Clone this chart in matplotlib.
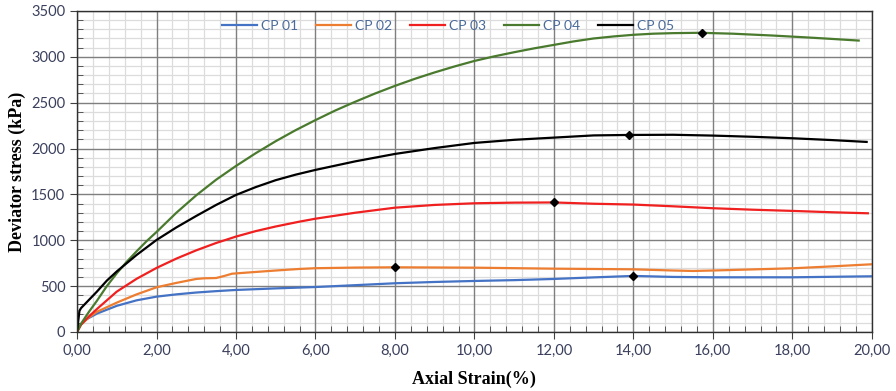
import numpy as np
import matplotlib.pyplot as plt
from matplotlib.ticker import MultipleLocator, FuncFormatter

# strain (%) and deviator stress (kPa)
x_cp01 = [0, 0.05, 0.2, 0.5, 1.0, 1.5, 2.0, 2.5, 3.0, 3.5, 4.0, 5.0, 6.0, 7.0, 8.0, 9.0, 10.0, 11.0, 12.0, 13.0, 14.0, 15.0, 16.0, 18.0, 20.0]
y_cp01 = [0, 60, 130, 200, 285, 345, 385, 410, 430, 445, 458, 475, 490, 510, 531, 545, 556, 565, 578, 595, 611, 600, 596, 596, 607]

x_cp02 = [0, 0.1, 0.3, 0.5, 1.0, 1.5, 2.0, 2.5, 3.0, 3.2, 3.5, 3.7, 3.9, 4.2, 5.0, 5.6, 6.0, 7.0, 8.0, 10.0, 12.0, 14.0, 15.0, 15.5, 16.0, 17.0, 18.0, 19.0, 20.0]
y_cp02 = [0, 80, 160, 220, 320, 410, 487, 535, 578, 585, 588, 610, 635, 645, 670, 687, 695, 702, 705, 701, 690, 683, 670, 665, 670, 682, 694, 715, 738]

x_cp03 = [0, 0.1, 0.3, 0.5, 1.0, 1.5, 2.0, 2.5, 3.0, 3.5, 4.0, 4.5, 5.0, 5.6, 6.0, 7.0, 8.0, 9.0, 10.0, 11.0, 12.0, 13.0, 14.0, 15.0, 16.0, 17.0, 18.0, 19.0, 19.9]
y_cp03 = [0, 80, 170, 250, 440, 580, 698, 800, 890, 970, 1040, 1100, 1150, 1203, 1235, 1300, 1355, 1385, 1403, 1410, 1412, 1398, 1389, 1370, 1349, 1333, 1320, 1305, 1294]

x_cp04 = [0, 0.1, 0.3, 0.5, 0.75, 1.0, 1.25, 1.5, 1.75, 2.0, 2.5, 3.0, 3.5, 4.0, 4.5, 5.0, 5.5, 6.0, 6.5, 7.0, 7.5, 8.0, 8.5, 9.0, 9.5, 10.0,
          10.5, 11.0, 11.5, 12.0, 12.5, 13.0, 13.5, 14.0, 14.5, 15.0, 15.72, 16.0, 16.5, 17.0, 17.5, 18.0, 18.5, 19.0, 19.67]
y_cp04 = [0, 90, 220, 340, 500, 640, 765, 880, 990, 1090, 1300, 1490, 1660, 1810, 1950, 2080, 2200, 2310, 2415, 2510, 2600, 2683, 2760, 2830, 2895, 2955,
          3005, 3050, 3092, 3130, 3168, 3200, 3222, 3240, 3252, 3258, 3262, 3258, 3252, 3242, 3232, 3220, 3208, 3195, 3177]

x_cp05 = [0, 0.03, 0.06, 0.1, 0.3, 0.5, 0.75, 1.0, 1.5, 2.0, 2.5, 3.0, 3.5, 4.0, 4.5, 5.0, 5.5, 6.0, 7.0, 8.0, 9.0, 10.0, 11.0, 12.0, 13.0, 13.89,
          15.0, 16.0, 17.0, 18.0, 19.0, 19.87]
y_cp05 = [0, 120, 230, 260, 350, 440, 560, 660, 840, 1003, 1140, 1265, 1385, 1494, 1580, 1655, 1715, 1767, 1860, 1941, 2005, 2061, 2095, 2119, 2143, 2148,
          2150, 2141, 2128, 2112, 2092, 2072]

# peak points
peak_x = [14.0, 8.0, 12.0, 15.72, 13.89]
peak_y = [611, 705, 1412, 3262, 2148]

fig = plt.figure(figsize=(8.96, 3.91), dpi=100)
ax = fig.add_axes([0.086, 0.151, 0.887, 0.821])

ax.set_xlim(0, 20)
ax.set_ylim(0, 3500)
ax.xaxis.set_major_locator(MultipleLocator(2))
ax.xaxis.set_minor_locator(MultipleLocator(0.4))
ax.yaxis.set_major_locator(MultipleLocator(500))
ax.yaxis.set_minor_locator(MultipleLocator(100))
ax.xaxis.set_major_formatter(FuncFormatter(lambda v, p: f'{v:.2f}'.replace('.', ',')))

# grid drawn by hand so the major lines stay on top of the light minor ones
for v in ax.xaxis.get_minorticklocs():
    ax.axvline(v, color='#dcdcdc', lw=0.9, zorder=0.5)
for v in ax.yaxis.get_minorticklocs():
    ax.axhline(v, color='#dcdcdc', lw=0.9, zorder=0.5)
for v in ax.get_xticks():
    ax.axvline(v, color='#7f7f7f', lw=1.0, zorder=0.8)
for v in ax.get_yticks():
    ax.axhline(v, color='#7f7f7f', lw=1.0, zorder=0.8)

ax.plot(x_cp01, y_cp01, color='#4472C4', lw=1.6, label='CP 01')
ax.plot(x_cp02, y_cp02, color='#ED7D31', lw=1.6, label='CP 02')
ax.plot(x_cp03, y_cp03, color='#F02020', lw=1.6, label='CP 03')
ax.plot(x_cp04, y_cp04, color='#4A7A2E', lw=1.6, label='CP 04')
ax.plot(x_cp05, y_cp05, color='black', lw=1.6, label='CP 05')
ax.plot(peak_x, peak_y, 'D', color='black', ms=4.5, zorder=5)

ax.tick_params(which='major', direction='out', length=5, color='#404040',
               labelsize=10.5, labelcolor='#3a3f5c')
ax.tick_params(which='minor', direction='in', length=4, color='#404040')
for lab in ax.get_xticklabels() + ax.get_yticklabels():
    lab.set_family('Lato')
for s in ax.spines.values():
    s.set_color('#303030')
    s.set_linewidth(1.0)

ax.set_xlabel('Axial Strain(%)', family='Liberation Serif', fontweight='bold', fontsize=13, labelpad=9)
ax.set_ylabel('Deviator stress (kPa)', family='Liberation Serif', fontweight='bold', fontsize=13, labelpad=4)

ax.legend(loc='upper center', bbox_to_anchor=(0.467, 1.012), ncol=5, frameon=False,
          prop={'family': 'Lato', 'size': 10}, labelcolor='#4a6a9a',
          handlelength=2.5, columnspacing=1.3, handletextpad=0.3)

fig.savefig('out.png', dpi=100)
